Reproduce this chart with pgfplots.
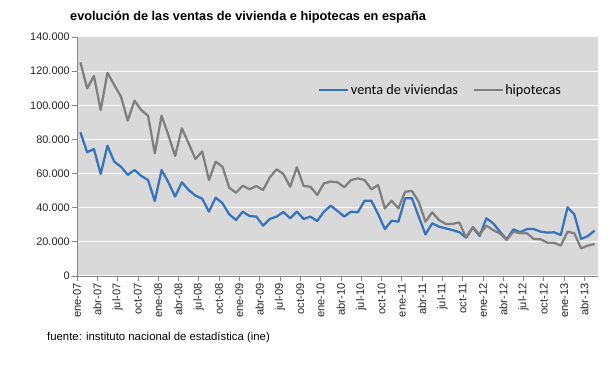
\documentclass[border=0pt]{standalone}
\usepackage{fontspec}
\setmainfont{Liberation Sans}
\newfontfamily\calibri{Carlito}
\usepackage{pgfplots}
\pgfplotsset{compat=1.18}
\definecolor{plotbg}{HTML}{D9D9D9}
\definecolor{ventablue}{HTML}{3573BE}
\definecolor{hipogray}{HTML}{7F7F7F}
\definecolor{axisgray}{HTML}{868686}
\begin{document}
\begin{tikzpicture}
\useasboundingbox (0,0) rectangle (610bp,371bp);
\begin{axis}[
  at={(77bp,95bp)}, anchor=south west,
  scale only axis, width=521bp, height=239bp,
  xmin=-0.5, xmax=76.5, ymin=0, ymax=140000,
  axis background/.style={fill=plotbg},
  axis x line*=bottom, axis y line*=left,
  axis line style={axisgray, line width=0.75bp, -},
  tick style={axisgray, line width=0.75bp},
  tick align=outside, major tick length=5bp,
  ytick={0,20000,...,140000},
  scaled y ticks=false,
  /pgf/number format/.cd, fixed, precision=0, 1000 sep={.}, assume math mode=true,
  /pgfplots/.cd,
  ymajorgrids, major grid style={white, line width=1bp},
  xtick={-0.5,2.5,...,74.5},
  xticklabels={ene-07,abr-07,jul-07,oct-07,ene-08,abr-08,jul-08,oct-08,ene-09,abr-09,jul-09,oct-09,ene-10,abr-10,jul-10,oct-10,ene-11,abr-11,jul-11,oct-11,ene-12,abr-12,jul-12,oct-12,ene-13,abr-13},
  x tick label style={rotate=90, anchor=east, font=\fontsize{11.2}{12}\selectfont, text=black!85, inner sep=2bp},
  y tick label style={font=\fontsize{11}{12}\selectfont, text=black!85, inner sep=2bp},
  legend columns=2,
  legend style={at={(0.4626,0.778)}, anchor=west, draw=none, fill=none,
    font=\calibri\fontsize{14.3}{16}\selectfont, inner sep=0pt,
    nodes={inner xsep=1.5bp},
    /tikz/every even column/.append style={column sep=13bp}},
  legend image code/.code={\draw[#1, line width=2.25bp] (0bp,0bp) -- (29bp,0bp);},
]
\addplot[ventablue, line width=2.25bp, line join=round] table {
0 84200
1 72500
2 74400
3 59800
4 76300
5 67000
6 64000
7 59200
8 62100
9 58600
10 56200
11 43900
12 62100
13 54900
14 46500
15 54900
16 50400
17 47100
18 45300
19 37700
20 45900
21 42600
22 36100
23 32800
24 37700
25 35100
26 34800
27 29500
28 33400
29 34800
30 37500
31 33800
32 37700
33 33400
34 34800
35 32200
36 37700
37 41200
38 38100
39 34800
40 37700
41 37300
42 44100
43 44100
44 36300
45 27500
46 32400
47 31800
48 45500
49 45500
50 34800
51 24400
52 30900
53 28900
54 27900
55 26900
56 25700
57 22500
58 28500
59 23400
60 33800
61 30900
62 26000
63 21500
64 27300
65 25600
66 27500
67 27500
68 26000
69 25400
70 25600
71 24000
72 40200
73 36100
74 21700
75 23400
76 26600
};
\addlegendentry{venta de viviendas}
\addplot[hipogray, line width=2.25bp, line join=round] table {
0 125200
1 109900
2 117200
3 97200
4 119100
5 111900
6 105100
7 91000
8 102700
9 97200
10 93900
11 71900
12 93900
13 82600
14 70300
15 86500
16 77700
17 68500
18 73000
19 56200
20 67000
21 64000
22 51700
23 48800
24 52900
25 50800
26 52700
27 50400
28 57800
29 62500
30 59800
31 52300
32 63700
33 52700
34 52300
35 47400
36 54300
37 55300
38 54900
39 52000
40 56200
41 57200
42 56200
43 50800
44 53300
45 39600
46 44100
47 39600
48 49400
49 49800
50 43500
51 31800
52 37300
53 32800
54 30500
55 30500
56 31400
57 22500
58 28500
59 24400
60 29500
61 26900
62 25000
63 21100
64 26000
65 25000
66 25000
67 21700
68 21500
69 19500
70 19500
71 17800
72 26000
73 25000
74 16200
75 17800
76 18700
};
\addlegendentry{hipotecas}
\end{axis}
\node[anchor=west, inner sep=0pt, font=\bfseries\fontsize{12.8}{14}\selectfont] at (70bp,354bp) {evolución de las ventas de vivienda e hipotecas en españa};
\node[anchor=west, inner sep=0pt, font=\fontsize{11.4}{12}\selectfont] at (47bp,34bp) {fuente: instituto nacional de estadística (ine)};
\end{tikzpicture}
\end{document}
